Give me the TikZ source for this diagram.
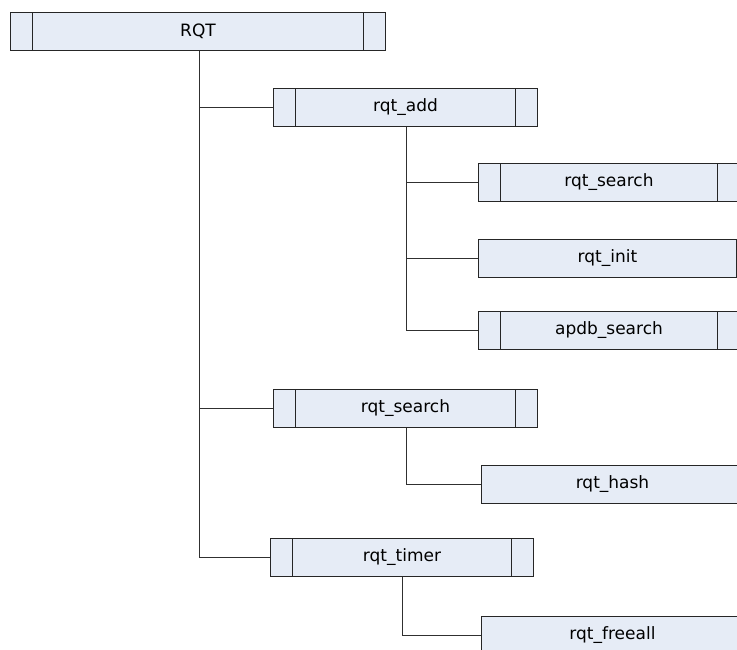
\documentclass[tikz,border=0pt]{standalone}
\usepackage{fontspec}
\setmainfont{DejaVu Sans}
\definecolor{boxfill}{HTML}{E6ECF6}
\definecolor{edge}{HTML}{262626}
\definecolor{wire}{HTML}{303030}
\begin{document}
\begin{tikzpicture}[x=1pt,y=-1pt,
  fnbox/.style={draw=edge, fill=boxfill, line width=1pt, rectangle,
    anchor=north west, inner sep=0pt, minimum height=38pt,
    font=\fontsize{17}{19}\selectfont},
  % predefined-process box: a narrow cell at each end
  subproc/.style={fnbox, path picture={
    \draw[edge, line width=1pt]
      ([xshift=22pt]path picture bounding box.north west) --
      ([xshift=22pt]path picture bounding box.south west)
      ([xshift=-22pt]path picture bounding box.north east) --
      ([xshift=-22pt]path picture bounding box.south east);}},
  wirestyle/.style={draw=wire, line width=1.2pt}]
\useasboundingbox (0,0) rectangle (737,650);
\clip (0,0) rectangle (737,650);

% top level
\node[subproc, minimum width=375pt] (rqt) at (10,12) {RQT};

% second level
\node[subproc, minimum width=264pt] (add)    at (273,88)  {rqt\_add};
\node[subproc, minimum width=264pt] (search) at (273,389) {rqt\_search};
\node[subproc, minimum width=263pt] (timer)  at (270,538) {rqt\_timer};

% children of rqt_add
\node[subproc, minimum width=261pt] (asearch) at (478,163) {rqt\_search};
\node[fnbox,   minimum width=258pt] (ainit)   at (478,239) {rqt\_init};
\node[subproc, minimum width=261pt] (apdb)    at (478,311) {apdb\_search};

% children of rqt_search and rqt_timer
\node[fnbox, minimum width=262pt] (hash)    at (481,465) {rqt\_hash};
\node[fnbox, minimum width=262pt] (freeall) at (481,616) {rqt\_freeall};

% connectors
\draw[wirestyle] ([xshift=1.5pt]rqt.south) |- (add.west);
\draw[wirestyle] ([xshift=1.5pt]rqt.south) |- (search.west);
\draw[wirestyle] ([xshift=1.5pt]rqt.south) |- (timer.west);

\draw[wirestyle] ([xshift=1pt]add.south) |- (asearch.west);
\draw[wirestyle] ([xshift=1pt]add.south) |- (ainit.west);
\draw[wirestyle] ([xshift=1pt]add.south) |- (apdb.west);

\draw[wirestyle] ([xshift=1pt]search.south) |- (hash.west);
\draw[wirestyle] ([xshift=0.5pt]timer.south) |- (freeall.west);
\end{tikzpicture}
\end{document}
